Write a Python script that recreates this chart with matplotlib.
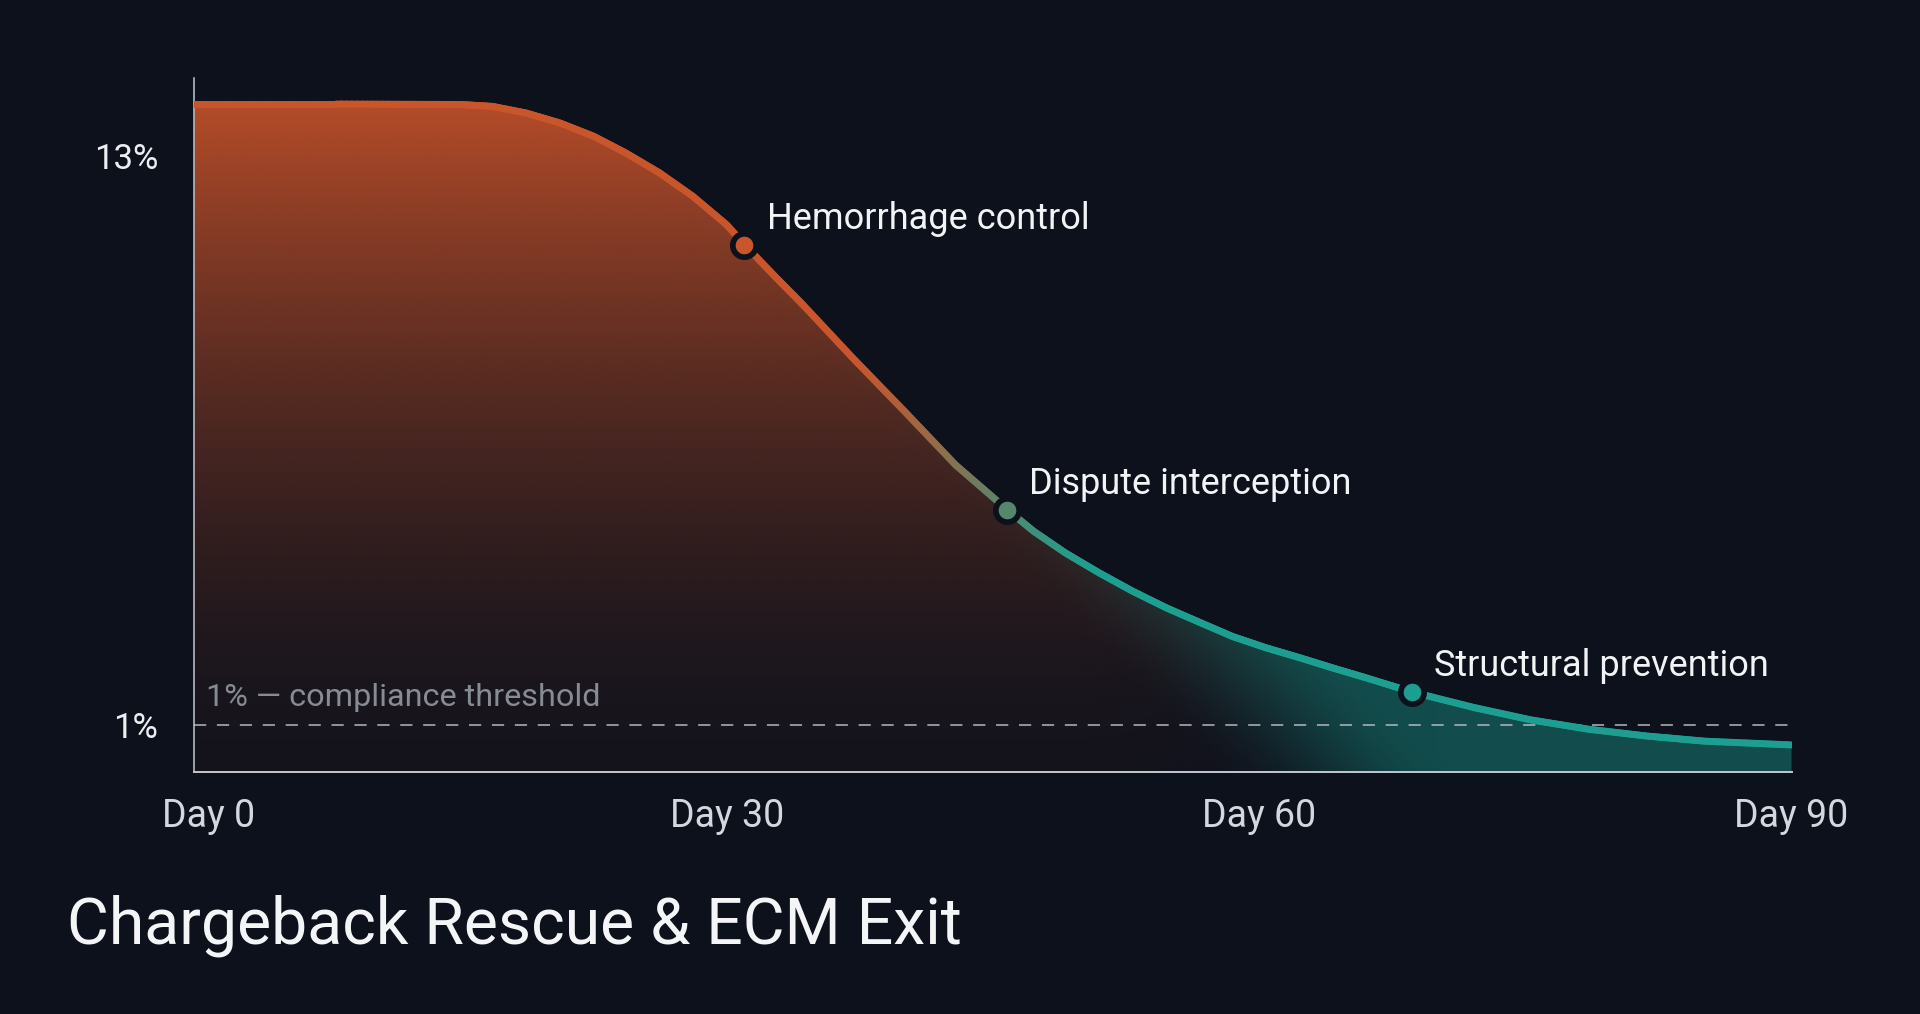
import matplotlib; matplotlib.use('Agg')
import matplotlib.pyplot as plt
import numpy as np
from matplotlib.collections import LineCollection
from matplotlib.colors import to_rgb
from matplotlib.transforms import ScaledTranslation

plt.rcParams['font.family'] = ['Roboto', 'DejaVu Sans']

# ---- data ----
days = [0, 8, 15.0, 16.8, 18.7, 20.6, 22.5, 24.3, 26.2, 28.1, 30.0, 31.0, 32.8, 34.3,
        37.1, 40.0, 42.9, 45.8, 47.3, 49.1, 51.0, 52.9, 54.8, 56.7, 58.5, 60.4, 62.3,
        64.2, 66.0, 68.6, 72.1, 75.3, 78.6, 81.8, 85.1, 90]
rate = [14.1, 14.1, 14.09, 14.05, 13.91, 13.70, 13.42, 13.07, 12.65, 12.15, 11.55, 11.13,
        10.43, 9.86, 8.74, 7.62, 6.48, 5.54, 5.08, 4.62, 4.20, 3.81, 3.46, 3.15, 2.86, 2.62,
        2.41, 2.19, 1.99, 1.69, 1.36, 1.10, 0.90, 0.76, 0.65, 0.57]
phase_names = ['Hemorrhage control', 'Dispute interception', 'Structural prevention']
phase_days = [31.0, 45.8, 68.6]
phase_rate = [11.13, 5.54, 1.69]
threshold = 1.0
threshold_label = '1% \u2014 compliance threshold'
xticks = [0, 30, 60, 90]
xlabels = ['Day 0', 'Day 30', 'Day 60', 'Day 90']
yticks = [1, 13]
ylabels = ['1%', '13%']
title = 'Chargeback Rescue & ECM Exit'

BG = '#0d111c'
ORANGE = np.array(to_rgb('#c9552b'))
TEAL = np.array(to_rgb('#1c9f90'))
FILL_OR = np.array(to_rgb('#c4512a'))
FILL_TE = np.array(to_rgb('#1a9e8f'))

def sstep(u):
    u = np.clip(u, 0, 1)
    return u * u * (3 - 2 * u)

def line_col(x):
    t = sstep((np.asarray(x) - 36) / 16)[..., None]
    return ORANGE * (1 - t) + TEAL * t

fig = plt.figure(figsize=(19.2, 10.14), dpi=100)
fig.patch.set_facecolor(BG)
ax = fig.add_axes([0.1012, 0.2387, 0.8319, 0.6844])
ax.set_facecolor(BG)

# gradient fill under the curve
gx = np.linspace(0, 90, 900)
gy = np.linspace(0, 14.7, 420)
X, Y = np.meshgrid(gx, gy)
a_o = (0.04 + 0.88 * np.clip(Y / 14.1, 0, 1) ** 1.6) * (1 - sstep((X - 50) / 20))
a_t = 0.42 * sstep((X + 2.5 * Y - 57) / 14)
A = 1 - (1 - a_o) * (1 - a_t)
C = (FILL_TE * a_t[..., None] + FILL_OR * (a_o * (1 - a_t))[..., None]) / np.maximum(A, 1e-6)[..., None]
rgba = np.dstack([C, A])
im = ax.imshow(rgba, extent=[0, 90, 0, 14.7], origin='lower', aspect='auto',
               interpolation='bilinear', zorder=1)
poly = ax.fill_between(days, rate, 0, facecolor='none', edgecolor='none')
im.set_clip_path(poly.get_paths()[0], transform=ax.transData)

# threshold
ax.axhline(threshold, color='#b3b8c0', lw=1.1, ls=(0, (8, 7)), zorder=2)
ax.annotate(threshold_label, (0, threshold), xytext=(8.6, 13.2), textcoords='offset points',
            ha='left', va='baseline', fontsize=23.3, color='#868b95', zorder=4)

# gradient line
px, py = np.array(days, float), np.array(rate, float)
lx, ly = [px[0]], [py[0]]
for i in range(len(px) - 1):
    f = np.linspace(0, 1, 25)[1:]
    lx.extend(px[i] + (px[i + 1] - px[i]) * f)
    ly.extend(py[i] + (py[i + 1] - py[i]) * f)
lx, ly = np.array(lx), np.array(ly)
pts = np.column_stack([lx, ly]).reshape(-1, 1, 2)
segs = np.concatenate([pts[:-1], pts[1:]], axis=1)
lc = LineCollection(segs, colors=line_col((lx[:-1] + lx[1:]) / 2), linewidths=5.0,
                    capstyle='round', joinstyle='round', zorder=3)
ax.add_collection(lc)

# phase markers + labels
for nm, d, r in zip(phase_names, phase_days, phase_rate):
    ax.plot(d, r, 'o', ms=16.8, mfc=line_col(d), mec=BG, mew=4.1, zorder=5)
    ax.annotate(nm, (d, r), xytext=(16, 11.5), textcoords='offset points',
                ha='left', va='baseline', fontsize=26, color='#f2f3f5', zorder=6)

ax.set_xlim(0, 90)
ax.set_ylim(0, 14.65)
for s in ['top', 'right']:
    ax.spines[s].set_visible(False)
ax.spines['left'].set_color('#c3c7cf'); ax.spines['left'].set_linewidth(1.1)
ax.spines['bottom'].set_color('#c3c7cf'); ax.spines['bottom'].set_linewidth(1.4)
ax.set_xticks(xticks, xlabels)
ax.set_yticks(yticks, ylabels)
ax.tick_params(axis='x', length=0, pad=19, labelsize=27, labelcolor='#d4d7dd')
ax.tick_params(axis='y', length=0, pad=26, labelsize=25, labelcolor='#eceef2')
lbl0 = ax.get_xticklabels()[0]
lbl0.set_transform(lbl0.get_transform() + ScaledTranslation(0.14, 0, fig.dpi_scale_trans))

fig.text(0.035, 0.0697, title, ha='left', va='baseline', fontsize=46.4, color='#f4f5f7')

fig.savefig('out.png', dpi=100, facecolor=BG)
